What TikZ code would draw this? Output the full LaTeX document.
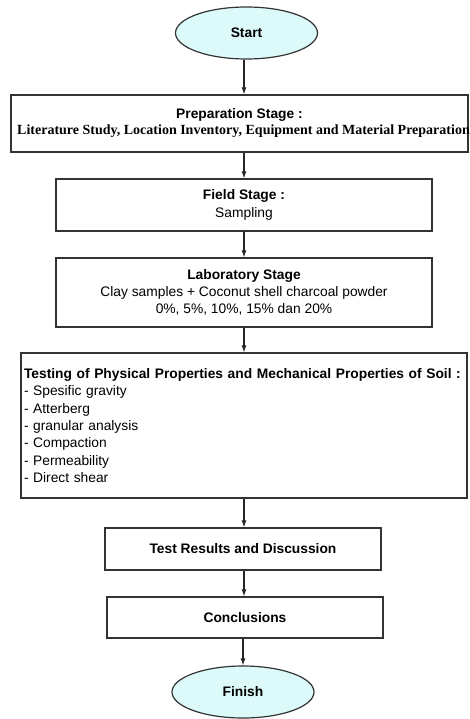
\documentclass[tikz,border=0pt]{standalone}
\usepackage{fontspec}
\setmainfont{Liberation Sans}
\newfontfamily\timesfont{Liberation Serif}
\tikzset{every picture/.style={line width=1.2pt}}
\tikzset{
  stagebox/.style={draw=black!80, fill=white, align=center, inner sep=3pt},
  endcap/.style={draw=black!80, ellipse, fill=capfill, minimum width=142pt, minimum height=52pt, font=\fontsize{13.8}{17.3}\selectfont\bfseries},
  flowline/.style={draw=black!85, line width=1.1pt, -{Latex[length=7pt,width=5pt]}},
}
\definecolor{capfill}{RGB}{220,250,250}
\usetikzlibrary{shapes.geometric,arrows.meta}

\begin{document}
\begin{tikzpicture}[x=1pt,y=1pt,yscale=-1,xscale=1,font=\fontsize{13.8}{17.3}\selectfont]
    \useasboundingbox (0,0) rectangle (469,719);

    %Shape: Ellipse [start]
    \node[endcap] (start) at (246.5,33) {Start};
    %Shape: Rectangle [preparation]
    \node[stagebox, minimum width=457pt, minimum height=57pt, font=\fontsize{13.8}{16}\selectfont] (prep) at (239.5,123.5)
      {\textbf{Preparation Stage :}\\\hspace*{8pt}\makebox[0pt]{\timesfont\bfseries\fontsize{14}{16}\selectfont Literature Study, Location Inventory, Equipment and Material Preparation}};
    %Shape: Rectangle [field]
    \node[stagebox, minimum width=376pt, minimum height=52pt] (field) at (244,205)
      {\textbf{Field Stage :}\\Sampling};
    %Shape: Rectangle [laboratory]
    \node[stagebox, minimum width=376pt, minimum height=69pt] (lab) at (244,292.5)
      {\textbf{Laboratory Stage}\\Clay samples + Coconut shell charcoal powder\\0\%, 5\%, 10\%, 15\% dan 20\%};
    %Shape: Rectangle [testing]
    \node[stagebox, align=left, text width=440pt, minimum height=145pt] (test) at (244,425.5)
      {\textbf{Testing of Physical Properties and Mechanical Properties of Soil :}\\
       - Spesific gravity\\- Atterberg\\- granular analysis\\- Compaction\\- Permeability\\- Direct shear};
    %Shape: Rectangle [results]
    \node[stagebox, minimum width=276pt, minimum height=42pt] (result) at (243,549)
      {\textbf{Test Results and Discussion}};
    %Shape: Rectangle [conclusions]
    \node[stagebox, minimum width=276pt, minimum height=41pt] (concl) at (245,617.5)
      {\textbf{Conclusions}};
    %Shape: Ellipse [finish]
    \node[endcap] (finish) at (243,692) {Finish};

    % Arrows
    \draw[flowline] (244,0 |- start.south) -- (244,0 |- prep.north);
    \draw[flowline] (244,0 |- prep.south) -- (244,0 |- field.north);
    \draw[flowline] (field) ++(0,26) -- (lab.north);
    \draw[flowline] (lab.south) -- (test.north);
    \draw[flowline] (test.south) -- (244,0 |- result.north);
    \draw[flowline] (244,0 |- result.south) -- (244,0 |- concl.north);
    \draw[flowline] (243,0 |- concl.south) -- (finish.north);
\end{tikzpicture}
\end{document}
